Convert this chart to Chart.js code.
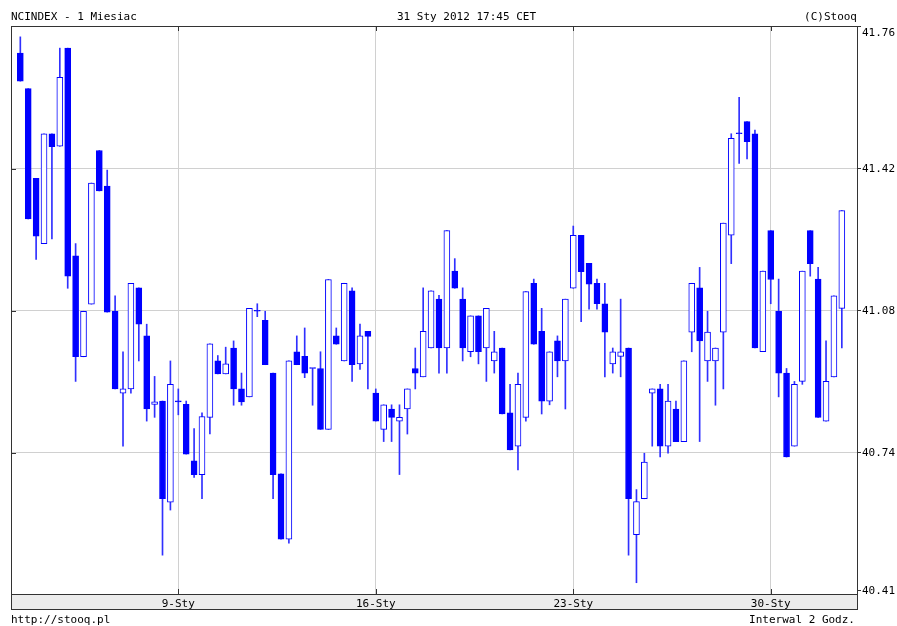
<!DOCTYPE html>
<html>
<head>
<meta charset="utf-8">
<title>NCINDEX - 1 Miesiac</title>
<script src="https://cdn.jsdelivr.net/npm/chart.js@4.4.1/dist/chart.umd.min.js"></script>
<style>
  body { margin: 0; background: #fff; }
  #wrap { position: relative; width: 897px; height: 626px; }
  #chart { position: absolute; left: 0; top: 0; }
  .t { position: absolute; font: 11px "DejaVu Sans Mono", monospace; line-height: 13px; color: #000; white-space: pre; }
</style>
</head>
<body>
<div id="wrap">
  <canvas id="chart" width="897" height="626"></canvas>
  <div class="t" style="left:11px;top:10px">NCINDEX - 1 Miesiac</div>
  <div class="t" style="left:397px;top:10px">31 Sty 2012 17:45 CET</div>
  <div class="t" style="right:40px;top:10px">(C)Stooq</div>
  <div class="t" style="left:11px;top:613px">http://stooq.pl</div>
  <div class="t" style="right:42px;top:613px">Interwal 2 Godz.</div>
</div>
<script>
// 2-hour candles, 3-31 Jan 2012 (5 per session)
const opens = [
  41.697, 41.612, 41.397, 41.241, 41.504, 41.474, 41.709, 41.212, 40.970, 41.096,
  41.464, 41.379, 41.079, 40.883, 40.893, 41.135, 41.020, 40.856, 40.864, 40.622,
  40.862, 40.856, 40.721, 40.688, 40.825, 40.960, 40.929, 40.991, 40.893, 40.874,
  41.079, 41.057, 40.931, 40.690, 40.533, 40.982, 40.971, 40.942, 40.942, 40.796,
  41.020, 40.960, 41.128, 40.953, 41.031, 40.883, 40.796, 40.845, 40.816, 40.845,
  40.942, 40.922, 40.991, 41.108, 40.991, 41.175, 41.108, 40.982, 41.068, 40.991,
  40.960, 40.991, 40.836, 40.756, 40.825, 41.146, 41.031, 40.864, 41.008, 40.960,
  41.134, 41.261, 41.194, 41.146, 41.097, 40.953, 40.971, 40.991, 40.544, 40.630,
  40.883, 40.893, 40.756, 40.845, 40.767, 41.029, 41.135, 40.960, 40.960, 41.029,
  41.261, 41.504, 41.533, 41.504, 40.982, 41.272, 41.079, 40.931, 40.756, 40.911,
  41.272, 41.156, 40.816, 40.922, 41.086
];
const highs = [
  41.736, 41.612, 41.397, 41.504, 41.504, 41.709, 41.709, 41.241, 41.079, 41.386,
  41.464, 41.417, 41.116, 40.982, 41.146, 41.135, 41.048, 40.923, 40.864, 40.960,
  40.893, 40.864, 40.798, 40.836, 41.001, 40.973, 40.993, 41.008, 40.931, 41.086,
  41.097, 41.079, 40.931, 40.690, 40.960, 41.020, 41.039, 40.942, 40.982, 41.155,
  41.039, 41.146, 41.135, 41.048, 41.031, 40.893, 40.855, 40.855, 40.855, 40.893,
  40.991, 41.135, 41.128, 41.117, 41.272, 41.205, 41.135, 41.068, 41.068, 41.086,
  41.031, 40.991, 40.904, 40.931, 41.126, 41.156, 41.086, 40.982, 41.020, 41.108,
  41.283, 41.261, 41.194, 41.156, 41.146, 40.991, 41.108, 40.991, 40.652, 40.739,
  40.893, 40.904, 40.904, 40.864, 40.960, 41.146, 41.184, 41.079, 40.991, 41.290,
  41.504, 41.591, 41.533, 41.513, 41.175, 41.272, 41.156, 40.942, 40.911, 41.175,
  41.272, 41.184, 41.008, 41.116, 41.320
];
const lows = [
  41.630, 41.300, 41.203, 41.241, 41.252, 41.474, 41.134, 40.911, 40.970, 41.096,
  41.367, 41.077, 40.893, 40.756, 40.883, 40.960, 40.816, 40.825, 40.495, 40.603,
  40.831, 40.737, 40.681, 40.630, 40.785, 40.929, 40.929, 40.854, 40.854, 40.874,
  41.066, 40.951, 40.630, 40.533, 40.524, 40.951, 40.920, 40.854, 40.796, 40.796,
  41.000, 40.960, 40.911, 40.940, 40.893, 40.816, 40.767, 40.767, 40.688, 40.785,
  40.893, 40.922, 40.991, 40.931, 40.931, 41.134, 40.960, 40.970, 40.953, 40.911,
  40.931, 40.833, 40.747, 40.699, 40.816, 41.000, 40.833, 40.855, 40.922, 40.845,
  41.134, 41.054, 41.084, 41.084, 40.922, 40.931, 40.922, 40.495, 40.429, 40.630,
  40.756, 40.730, 40.739, 40.767, 40.767, 40.982, 40.767, 40.911, 40.854, 40.893,
  41.193, 41.433, 41.444, 40.991, 40.982, 41.097, 40.874, 40.730, 40.756, 40.904,
  41.163, 40.825, 40.816, 40.922, 40.991
];
const closes = [
  41.630, 41.300, 41.259, 41.504, 41.473, 41.639, 41.163, 40.970, 41.079, 41.386,
  41.367, 41.077, 40.893, 40.893, 41.146, 41.048, 40.845, 40.862, 40.630, 40.904,
  40.862, 40.737, 40.688, 40.827, 41.001, 40.929, 40.953, 40.893, 40.862, 41.086,
  41.079, 40.951, 40.688, 40.533, 40.960, 40.951, 40.931, 40.942, 40.796, 41.155,
  41.000, 41.146, 40.951, 41.020, 41.019, 40.816, 40.855, 40.825, 40.825, 40.893,
  40.931, 41.031, 41.128, 40.991, 41.272, 41.134, 40.991, 41.068, 40.982, 41.086,
  40.982, 40.833, 40.747, 40.904, 41.126, 41.000, 40.864, 40.982, 40.960, 41.108,
  41.261, 41.174, 41.144, 41.097, 41.029, 40.982, 40.982, 40.630, 40.623, 40.718,
  40.893, 40.756, 40.864, 40.767, 40.960, 41.146, 41.008, 41.029, 40.991, 41.290,
  41.493, 41.504, 41.485, 40.991, 41.175, 41.155, 40.931, 40.730, 40.904, 41.175,
  41.193, 40.825, 40.911, 41.116, 41.320
];

const xTickIdx = [20, 45, 70, 95];
const xTickLabels = ["9-Sty", "16-Sty", "23-Sty", "30-Sty"];
const yTicks = [40.41, 40.74, 41.08, 41.42, 41.76];

const BLUE = "#0000ff";
const FONT = { family: "'DejaVu Sans Mono', monospace", size: 11 };

const isUp = (i) => closes[i] > opens[i];

// frame, grey date strip and the short inner tick marks
const frame = {
  id: "frame",
  beforeDraw(chart) {
    const { ctx, chartArea: a } = chart;
    ctx.save();
    ctx.fillStyle = "#ffffff";
    ctx.fillRect(0, 0, chart.width, chart.height);
    ctx.fillStyle = "#ececec";
    ctx.fillRect(a.left, a.bottom, a.right - a.left, 15);
    ctx.restore();
  },
  afterDraw(chart) {
    const { ctx, chartArea: a, scales } = chart;
    ctx.save();
    ctx.strokeStyle = "#333";
    ctx.lineWidth = 1;
    ctx.strokeRect(a.left + 0.5, a.top + 0.5, a.right - a.left, a.bottom - a.top);
    ctx.strokeRect(a.left + 0.5, a.bottom + 0.5, a.right - a.left, 15);
    ctx.beginPath();
    xTickIdx.forEach((v) => {
      const x = Math.round(scales.x.getPixelForValue(v)) + 0.5;
      ctx.moveTo(x, a.top); ctx.lineTo(x, a.top + 5);
      ctx.moveTo(x, a.bottom); ctx.lineTo(x, a.bottom - 5);
    });
    yTicks.slice(1, -1).forEach((v) => {
      const y = Math.round(scales.y.getPixelForValue(v)) + 0.5;
      ctx.moveTo(a.left, y); ctx.lineTo(a.left + 5, y);
    });
    ctx.stroke();
    ctx.restore();
  }
};

new Chart(document.getElementById("chart"), {
  type: "bar",
  data: {
    datasets: [
      {
        label: "wick",
        data: lows.map((l, i) => ({ x: i, y: [l, highs[i]] })),
        backgroundColor: "#3030ff",
        borderWidth: 0,
        barThickness: 1,
        grouped: false,
        order: 2
      },
      {
        label: "body",
        data: opens.map((o, i) => ({ x: i, y: [o, closes[i]] })),
        backgroundColor: (c) => (isUp(c.dataIndex) ? "#ffffff" : BLUE),
        borderColor: BLUE,
        borderWidth: 1,
        borderSkipped: false,
        barThickness: 6,
        minBarLength: 1,
        grouped: false,
        order: 1
      }
    ]
  },
  options: {
    responsive: false,
    animation: false,
    devicePixelRatio: 1,
    layout: { padding: { left: 11, top: 26, right: 0, bottom: 0 } },
    plugins: { legend: { display: false }, tooltip: { enabled: false } },
    scales: {
      x: {
        type: "linear",
        offset: false,
        min: -1.18,
        max: 105.92,
        afterBuildTicks: (s) => { s.ticks = xTickIdx.map((v) => ({ value: v })); },
        afterFit: (s) => { s.height = 32; },
        border: { display: false },
        grid: { color: "#d0d0d0", drawTicks: false, offset: false },
        ticks: {
          font: FONT,
          color: "#000",
          padding: 4,
          autoSkip: false,
          maxRotation: 0,
          callback: (v) => xTickLabels[xTickIdx.indexOf(v)]
        }
      },
      y: {
        position: "right",
        min: 40.402,
        max: 41.762,
        afterBuildTicks: (s) => { s.ticks = yTicks.map((v) => ({ value: v })); },
        afterFit: (s) => { s.width = 40; },
        border: { display: false },
        grid: {
          color: (c) => (c.index === 0 || c.index === yTicks.length - 1 ? "rgba(0,0,0,0)" : "#d0d0d0"),
          tickColor: "#333",
          tickLength: 4
        },
        ticks: {
          font: FONT,
          color: "#000",
          padding: 1,
          // top label sits a little below the frame, as on the original
          callback: (v) => (v === yTicks[yTicks.length - 1] ? ["", v.toFixed(2)] : v.toFixed(2))
        }
      }
    }
  },
  plugins: [frame]
});
</script>
</body>
</html>
